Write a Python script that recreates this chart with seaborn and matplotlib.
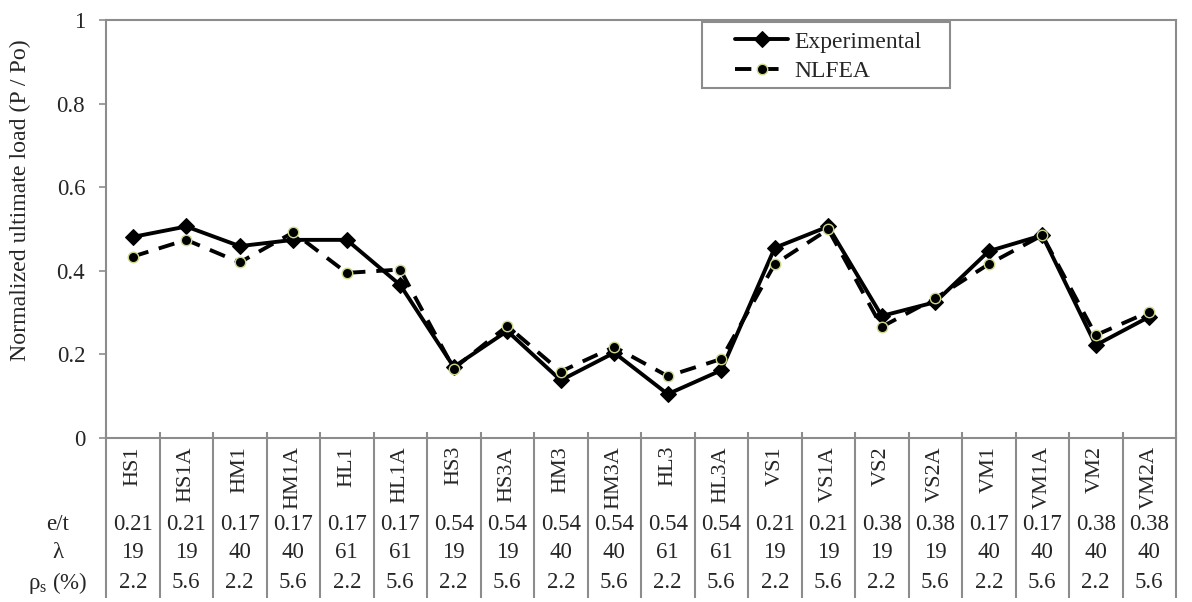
import matplotlib
matplotlib.use("Agg")
import matplotlib.pyplot as plt
import seaborn as sns
import pandas as pd
from matplotlib.patches import Rectangle

specimens = ["HS1", "HS1A", "HM1", "HM1A", "HL1", "HL1A", "HS3", "HS3A", "HM3", "HM3A",
             "HL3", "HL3A", "VS1", "VS1A", "VS2", "VS2A", "VM1", "VM1A", "VM2", "VM2A"]
experimental = [0.481, 0.506, 0.459, 0.474, 0.474, 0.366, 0.170, 0.256, 0.138, 0.204,
                0.105, 0.162, 0.455, 0.506, 0.292, 0.325, 0.447, 0.485, 0.222, 0.290]
nlfea = [0.434, 0.474, 0.420, 0.492, 0.395, 0.403, 0.166, 0.268, 0.159, 0.218,
         0.148, 0.189, 0.416, 0.499, 0.266, 0.334, 0.416, 0.485, 0.246, 0.302]
e_t = ["0.21", "0.21", "0.17", "0.17", "0.17", "0.17", "0.54", "0.54", "0.54", "0.54",
       "0.54", "0.54", "0.21", "0.21", "0.38", "0.38", "0.17", "0.17", "0.38", "0.38"]
lam = ["19", "19", "40", "40", "61", "61", "19", "19", "40", "40",
       "61", "61", "19", "19", "19", "19", "40", "40", "40", "40"]
rho_s = ["2.2", "5.6", "2.2", "5.6", "2.2", "5.6", "2.2", "5.6", "2.2", "5.6",
         "2.2", "5.6", "2.2", "5.6", "2.2", "5.6", "2.2", "5.6", "2.2", "5.6"]
row_labels = ["e/t", "λ", "ρ$_\\mathregular{s}$ (%)"]
yticks = [0, 0.2, 0.4, 0.6, 0.8, 1.0]
ytick_labels = ["0", "0.2", "0.4", "0.6", "0.8", "1"]

sns.set_style("white")
plt.rcParams["font.family"] = ["Liberation Serif", "DejaVu Serif"]
plt.rcParams["mathtext.fontset"] = "custom"
plt.rcParams["mathtext.rm"] = "Liberation Serif"

W, H = 1192, 602
fig = plt.figure(figsize=(W / 100, H / 100), dpi=100)
ax = fig.add_axes([106 / W, 1 - 438 / H, (1176 - 106) / W, (438 - 20) / H])

df = pd.DataFrame({"idx": range(len(specimens)), "exp": experimental, "fea": nlfea})
FS = 16
GRAY = "#8c8c8c"

sns.lineplot(data=df, x="idx", y="exp", ax=ax, color="black", linewidth=2.8,
             marker="D", markersize=8.5, markeredgecolor="black", markerfacecolor="black",
             label="Experimental", zorder=3)
sns.lineplot(data=df, x="idx", y="fea", ax=ax, color="black", linewidth=2.8,
             marker="o", markersize=7.5, markeredgecolor="#cdd58a", markeredgewidth=1.0,
             markerfacecolor="black", label="NLFEA", zorder=4)
ax.lines[1].set_dashes((4.2, 2.8))

ax.set_xlim(-0.5, len(specimens) - 0.5)
ax.set_ylim(0, 1)
ax.set_xticks([])
ax.set_yticks(yticks)
ax.set_yticklabels(ytick_labels, fontsize=FS + 0.5)
ax.tick_params(axis="y", direction="out", length=5, width=1.2, color=GRAY, pad=10, left=True)
ax.set_xlabel("")
ax.set_ylabel("")
for sp in ax.spines.values():
    sp.set_color(GRAY)
    sp.set_linewidth(1.5)

fig.text(20 / W, 1 - 200 / H, "Normalized ultimate load (P / Po)", rotation=90,
         ha="center", va="center", fontsize=17.2)

# Table below the axis
def ax_y(ypx):
    return (438 - ypx) / 418

tr = ax.get_xaxis_transform()
bounds = [i - 0.5 for i in range(len(specimens) + 1)]
ax.vlines(bounds, ax_y(598), ax_y(432), transform=tr, colors=GRAY, linewidth=1.5, clip_on=False)

for i, name in enumerate(specimens):
    ax.text(i, ax_y(446), name, rotation=90, ha="center", va="top", fontsize=FS,
            transform=tr, clip_on=False)
    ax.text(i, ax_y(525), e_t[i], ha="center", va="center", fontsize=FS + 0.5, transform=tr, clip_on=False)
    ax.text(i, ax_y(553), lam[i], ha="center", va="center", fontsize=FS + 0.5, transform=tr, clip_on=False)
    ax.text(i, ax_y(583), rho_s[i], ha="center", va="center", fontsize=FS + 0.5, transform=tr, clip_on=False)

for lbl, ypx in zip(row_labels, [525, 553, 583]):
    fig.text(58 / W, 1 - ypx / H, lbl, ha="center", va="center", fontsize=FS + 0.5)

# Legend
ax.get_legend().remove()
fig.patches.append(Rectangle((702 / W, 1 - 88 / H), 248 / W, 66 / H, transform=fig.transFigure,
                             fill=False, edgecolor=GRAY, linewidth=1.5))
fig.legend(handles=ax.lines[:2], labels=["Experimental", "NLFEA"], loc="upper left",
           bbox_to_anchor=(735 / W, 1 - 31 / H), bbox_transform=fig.transFigure,
           frameon=False, fontsize=17, borderpad=0, handlelength=2.25, handletextpad=0.25,
           labelspacing=0.33, borderaxespad=0)

fig.savefig("out.png", dpi=100)
